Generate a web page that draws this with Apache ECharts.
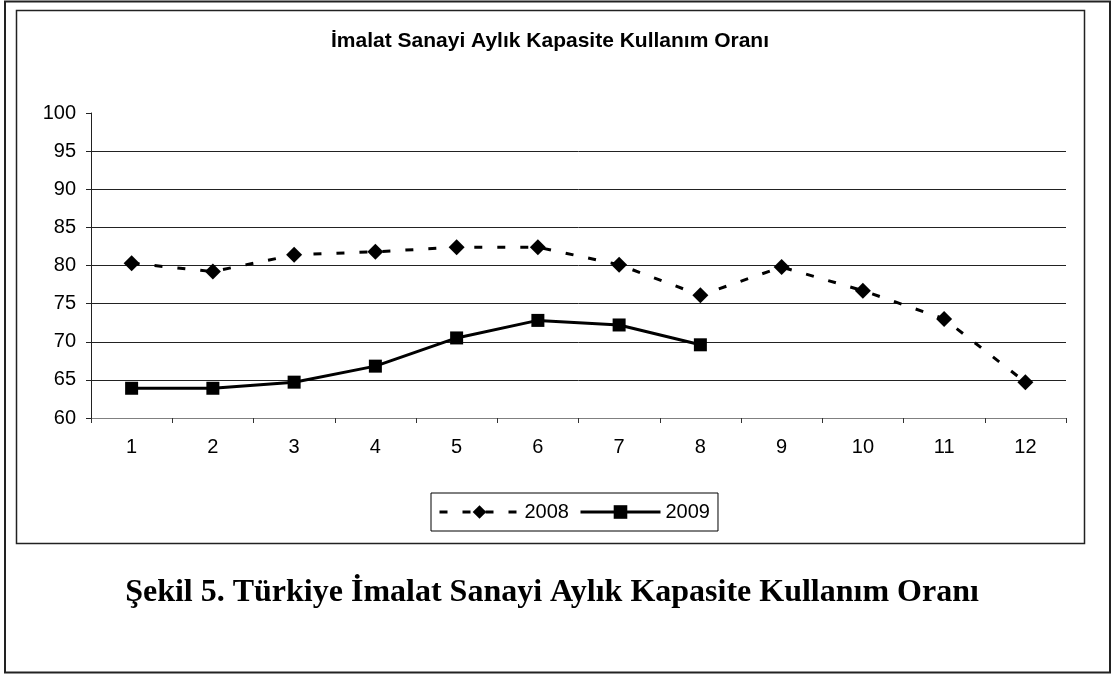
<!DOCTYPE html>
<html>
<head>
<meta charset="utf-8">
<script src="https://cdn.jsdelivr.net/npm/echarts@6/dist/echarts.min.js"></script>
<style>
html,body{margin:0;padding:0;background:#fff;}
#chart{width:1115px;height:675px;}
</style>
</head>
<body>
<div id="chart"></div>
<script>
const months = ['1','2','3','4','5','6','7','8','9','10','11','12'];
const yTicks = [60, 65, 70, 75, 80, 85, 90, 95, 100];
const series2008 = [80.3, 79.2, 81.4, 81.8, 82.4, 82.4, 80.1, 76.1, 79.8, 76.7, 73.0, 64.7];
const series2009 = [63.9, 63.9, 64.7, 66.8, 70.5, 72.8, 72.2, 69.6];
const chartTitle = 'İmalat Sanayi Aylık Kapasite Kullanım Oranı';
const caption = 'Şekil 5. Türkiye İmalat Sanayi Aylık Kapasite Kullanım Oranı';

const chart = echarts.init(document.getElementById('chart'), null, {renderer: 'canvas'});
chart.setOption({
  animation: false,
  backgroundColor: '#fff',
  graphic: [
    {type: 'rect', shape: {x: 5, y: 1.5, width: 1105, height: 671}, style: {fill: 'none', stroke: '#222', lineWidth: 2}, z: 0},
    {type: 'rect', shape: {x: 16.5, y: 10.5, width: 1068, height: 533}, style: {fill: 'none', stroke: '#222', lineWidth: 1.5}, z: 0},
    {type: 'text', x: 550, y: 41, style: {text: chartTitle, font: 'bold 21px "Liberation Sans", Arial, sans-serif', fill: '#000', textAlign: 'center', textVerticalAlign: 'middle'}},
    {type: 'text', x: 552, y: 593, style: {text: caption, font: 'bold 32px "Liberation Serif", "Times New Roman", serif', fill: '#000', textAlign: 'center', textVerticalAlign: 'middle'}}
  ],
  grid: {left: 91, right: 49, top: 113, bottom: 257, containLabel: false},
  legend: {
    left: 431, top: 493,
    orient: 'horizontal',
    padding: [9, 8, 9, 7],
    borderColor: '#000', borderWidth: 1,
    itemWidth: 80, itemHeight: 17, itemGap: 10,
    lineStyle: {width: 3},
    textStyle: {fontFamily: '"Liberation Sans", Arial, sans-serif', fontSize: 20, color: '#000'},
    data: ['2008', '2009']
  },
  xAxis: {
    type: 'category',
    data: months,
    boundaryGap: true,
    axisLine: {show: true, lineStyle: {color: '#808080', width: 1}},
    axisTick: {show: true, inside: false, length: 5, lineStyle: {color: '#333'}},
    axisLabel: {fontFamily: '"Liberation Sans", Arial, sans-serif', fontSize: 20, color: '#000', margin: 19},
    splitLine: {show: false}
  },
  yAxis: {
    type: 'value',
    min: yTicks[0], max: yTicks[yTicks.length - 1], interval: 5,
    axisLine: {show: true, lineStyle: {color: '#222', width: 1}},
    axisTick: {show: true, inside: false, length: 5, lineStyle: {color: '#222'}},
    axisLabel: {fontFamily: '"Liberation Sans", Arial, sans-serif', fontSize: 20, color: '#000', margin: 15},
    splitLine: {show: true, showMinLine: false, showMaxLine: false, lineStyle: {color: '#222', width: 1}}
  },
  series: [
    {
      name: '2008', type: 'line', data: series2008,
      symbol: 'diamond', symbolSize: 16,
      lineStyle: {color: '#000', width: 3, type: [8, 15]},
      itemStyle: {color: '#000'},
      emphasis: {disabled: true}
    },
    {
      name: '2009', type: 'line', data: series2009,
      symbol: 'rect', symbolSize: 13,
      lineStyle: {color: '#000', width: 3, type: 'solid'},
      itemStyle: {color: '#000'},
      emphasis: {disabled: true}
    }
  ]
});
</script>
</body>
</html>
